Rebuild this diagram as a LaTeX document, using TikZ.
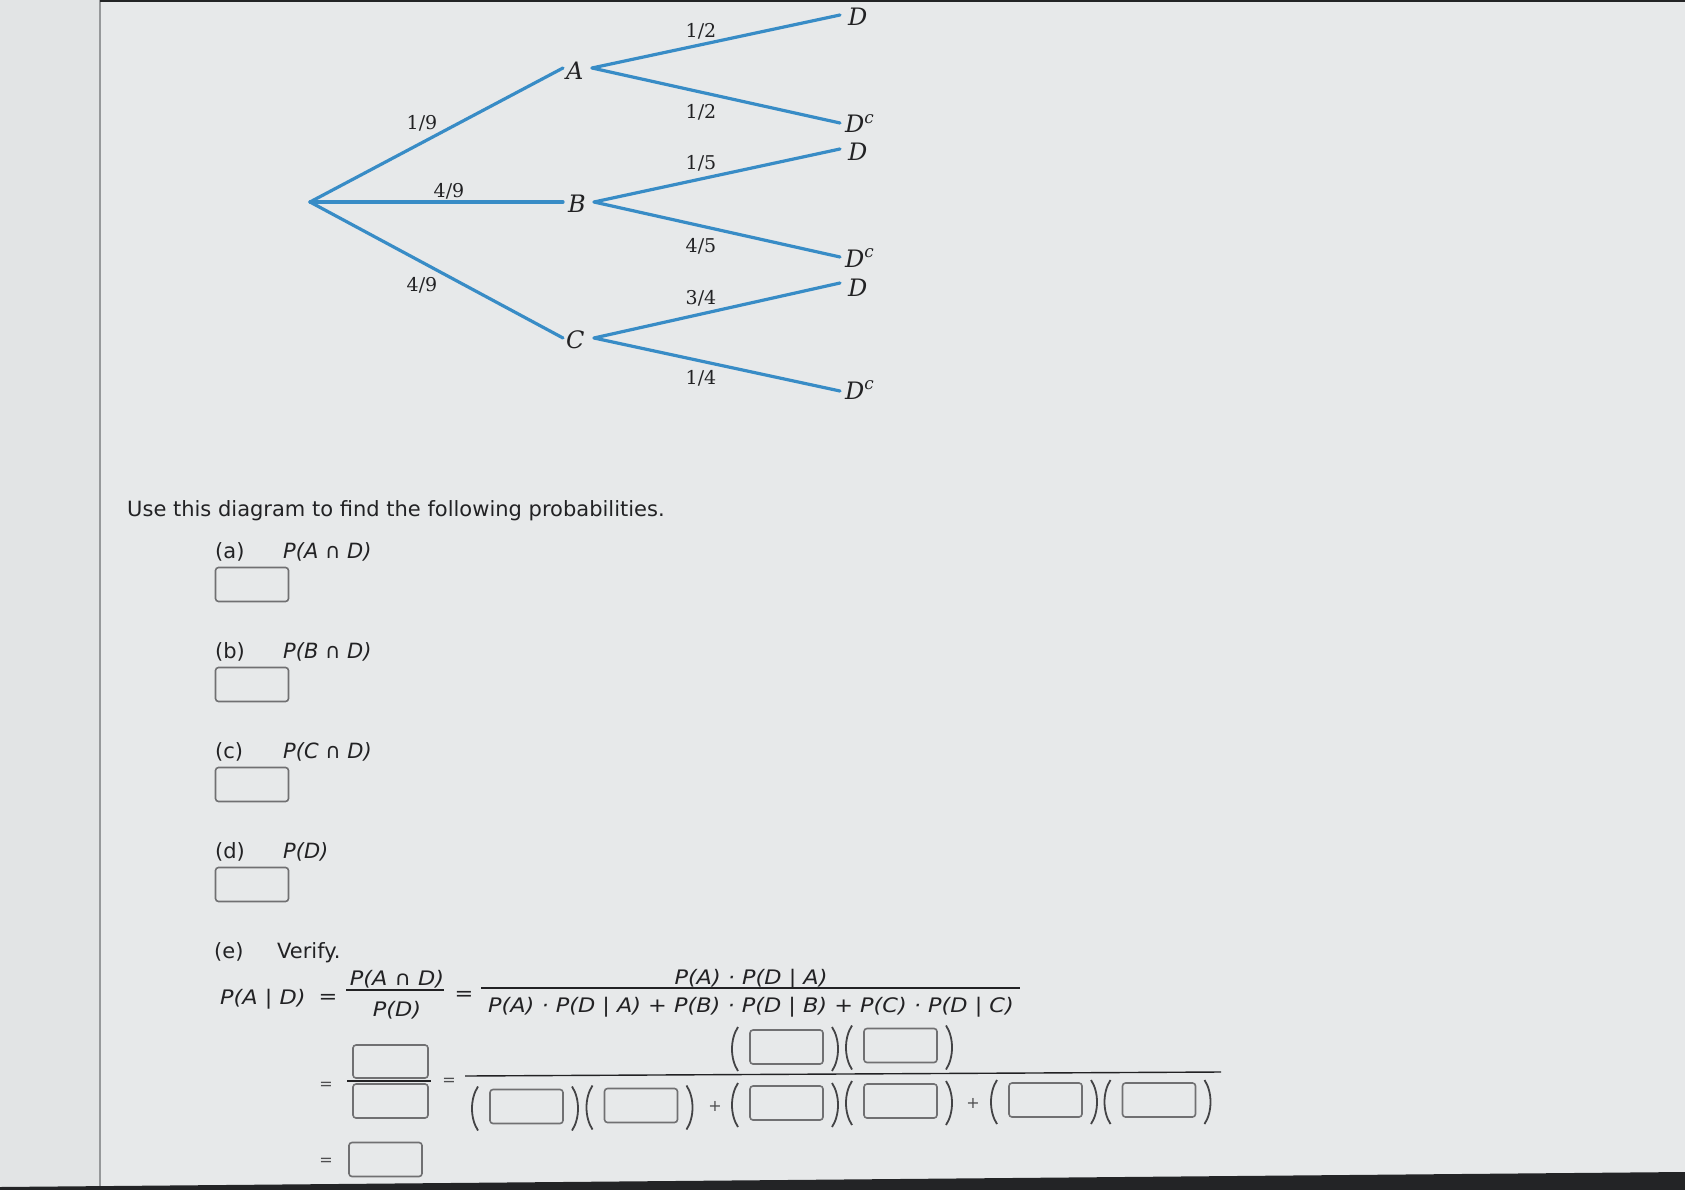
\documentclass[tikz,border=0pt]{standalone}
\usepackage{fontspec}
\setmainfont{DejaVu Sans}
\newfontfamily\treefont{DejaVu Serif}
\newfontfamily\formfont[FakeStretch=1.12]{DejaVu Sans}
\newcommand\setfs[1]{\fontsize{#1}{#1}\selectfont}
\definecolor{bgcol}{RGB}{231,233,234}
\definecolor{leftcol}{RGB}{226,228,229}
\definecolor{edgegray}{RGB}{150,152,154}
\definecolor{darkband}{RGB}{35,36,38}
\definecolor{treeblue}{RGB}{56,140,198}
\definecolor{txt}{RGB}{34,34,36}
\definecolor{boxgray}{RGB}{112,112,114}
\tikzset{
  branch/.style={treeblue, line width=3.2pt, line cap=round},
  lettr/.style={font=\treefont\itshape\setfs{24}, text=txt, inner sep=0pt, anchor=base west},
  prob/.style={font=\treefont\setfs{19}, text=txt, inner sep=0pt},
  bodytxt/.style={font=\setfs{21}, text=txt, inner sep=0pt, anchor=base west},
  formula/.style={font=\formfont\setfs{20}, text=txt, inner sep=0pt},
  smallsym/.style={font=\setfs{16}, text=txt!80, inner sep=0pt},
  ansbox/.style={draw=boxgray, line width=1.6pt, rounded corners=3pt, minimum width=73pt, minimum height=34pt, inner sep=0pt},
  fracbar/.style={draw=txt, line width=1.4pt},
  parenline/.style={draw=txt!85, line width=1.8pt},
  lpar/.pic={\draw[parenline] (4,-22) .. controls (-4,-10) and (-4,10) .. (4,22);},
  rpar/.pic={\draw[parenline] (-4,-22) .. controls (4,-10) and (4,10) .. (-4,22);}
}
\begin{document}
\begin{tikzpicture}[x=1pt,y=-1pt]
\useasboundingbox (0,0) rectangle (1685,1190);
% photographed screen background
\fill[bgcol] (0,0) rectangle (1685,1190);
\fill[leftcol] (0,0) rectangle (100,1190);
\draw[edgegray, line width=1.2pt] (100,0) -- (100,1186);
\fill[darkband] (100,0) rectangle (1685,2.5);
\fill[darkband] (0,1187) -- (1685,1172) -- (1685,1190) -- (0,1190) -- cycle;

% ---------------- tree ----------------
\coordinate (root) at (310,202);
\node[lettr] (A) at (566,80) {A};
\node[lettr] (B) at (568,213) {B};
\node[lettr] (C) at (566,348) {C};
\node[lettr] (D1) at (848,26) {D};
\node[lettr] (Dc1) at (845,133) {D\textsuperscript{c}};
\node[lettr] (D2) at (848,161) {D};
\node[lettr] (Dc2) at (845,267) {D\textsuperscript{c}};
\node[lettr] (D3) at (848,296) {D};
\node[lettr] (Dc3) at (845,399) {D\textsuperscript{c}};

\coordinate (Ain) at (563,68);  \coordinate (Aout) at (592,68);
\coordinate (Bin) at (563,202); \coordinate (Bout) at (594,202);
\coordinate (Cin) at (563,338); \coordinate (Cout) at (594,338);
\coordinate (D1in) at (840,15);  \coordinate (Dc1in) at (840,123);
\coordinate (D2in) at (840,149); \coordinate (Dc2in) at (840,257);
\coordinate (D3in) at (840,283); \coordinate (Dc3in) at (840,391);

\draw[branch] (root) -- (Ain);
\draw[branch] (root) -- (Bin);
\draw[branch] (root) -- (Cin);
\draw[branch] (Aout) -- (D1in);
\draw[branch] (Aout) -- (Dc1in);
\draw[branch] (Bout) -- (D2in);
\draw[branch] (Bout) -- (Dc2in);
\draw[branch] (Cout) -- (D3in);
\draw[branch] (Cout) -- (Dc3in);

\node[prob] (pA) at (422,123) {1/9};
\node[prob] (pB) at (449,191) {4/9};
\node[prob] (pC) at (422,285) {4/9};
\node[prob] (pAD) at (701,31) {1/2};
\node[prob] (pADc) at (701,112) {1/2};
\node[prob] (pBD) at (701,163) {1/5};
\node[prob] (pBDc) at (701,246) {4/5};
\node[prob] (pCD) at (701,298) {3/4};
\node[prob] (pCDc) at (701,378) {1/4};

% ---------------- questions ----------------
\node[bodytxt] (intro) at (127,516) {Use this diagram to find the following probabilities.};

\node[bodytxt] (qa) at (215,558) {(a)};
\node[bodytxt] (qaexpr) at (283,558) {\itshape P(A {\upshape ∩} D)};
\node[ansbox] (boxa) at (252,584.5) {};

\node[bodytxt] (qb) at (215,658) {(b)};
\node[bodytxt] (qbexpr) at (283,658) {\itshape P(B {\upshape ∩} D)};
\node[ansbox] (boxb) at (252,684.5) {};

\node[bodytxt] (qc) at (215,758) {(c)};
\node[bodytxt] (qcexpr) at (283,758) {\itshape P(C {\upshape ∩} D)};
\node[ansbox] (boxc) at (252,784.5) {};

\node[bodytxt] (qd) at (215,858) {(d)};
\node[bodytxt] (qdexpr) at (283,858) {\itshape P(D)};
\node[ansbox] (boxd) at (252,884.5) {};

\node[bodytxt] (qe) at (214,958) {(e)};
\node[bodytxt] (qeverify) at (277,958) {Verify.};

% line 1 of the formula
\node[formula, anchor=base west] (lhs) at (220,1004) {\itshape P(A | D)};
\node[formula] (eq1) at (328,999) {=};
\node[formula, anchor=base] (f1num) at (397,985) {\itshape P(A {\upshape ∩} D)};
\draw[fracbar] (346,990) -- (444,990);
\node[formula, anchor=base] (f1den) at (397,1016) {\itshape P(D)};
\node[formula] (eq2) at (464,996) {=};
\node[formula, anchor=base] (f2num) at (751,984) {\itshape P(A) · P(D | A)};
\draw[fracbar] (481,988) -- (1020,988);
\node[formula, anchor=base] (f2den) at (751,1012) {\itshape P(A) · P(D | A) + P(B) · P(D | B) + P(C) · P(D | C)};

% line 2
\node[smallsym] (eq3) at (326,1086) {=};
\node[ansbox, minimum width=75pt, minimum height=33pt] (bnum) at (390.5,1061.5) {};
\draw[fracbar] (347,1081) -- (431,1081);
\node[ansbox, minimum width=75pt, minimum height=34pt] (bden) at (390.5,1101) {};
\node[smallsym] (eq4) at (449,1082) {=};
\draw[fracbar] (465,1076) -- (1221,1072);

\node[ansbox] (n1) at (786.5,1047) {};
\node[ansbox] (n2) at (900.5,1045.5) {};
\pic at (786.5-52.5,1049) {lpar};
\pic at (786.5+49.5,1049) {rpar};
\pic at (900.5-52.5,1047.5) {lpar};
\pic at (900.5+49.5,1047.5) {rpar};

\node[ansbox] (d1) at (526.5,1106.5) {};
\node[ansbox] (d2) at (641,1105.5) {};
\node[ansbox] (d3) at (786.5,1103) {};
\node[ansbox] (d4) at (900.5,1101) {};
\node[ansbox] (d5) at (1045.5,1100) {};
\node[ansbox] (d6) at (1159,1100) {};
\pic at (526.5-52.5,1108.5) {lpar};
\pic at (526.5+49.5,1108.5) {rpar};
\pic at (641-52.5,1107.5) {lpar};
\pic at (641+49.5,1107.5) {rpar};
\node[smallsym] (plus1) at (715,1106) {+};
\pic at (786.5-52.5,1105) {lpar};
\pic at (786.5+49.5,1105) {rpar};
\pic at (900.5-52.5,1103) {lpar};
\pic at (900.5+49.5,1103) {rpar};
\node[smallsym] (plus2) at (973,1103) {+};
\pic at (1045.5-52.5,1102) {lpar};
\pic at (1045.5+49.5,1102) {rpar};
\pic at (1159-52.5,1102) {lpar};
\pic at (1159+49.5,1102) {rpar};

% line 3
\node[smallsym] (eq5) at (326,1162) {=};
\node[ansbox] (bres) at (385.5,1159.5) {};
\end{tikzpicture}
\end{document}
